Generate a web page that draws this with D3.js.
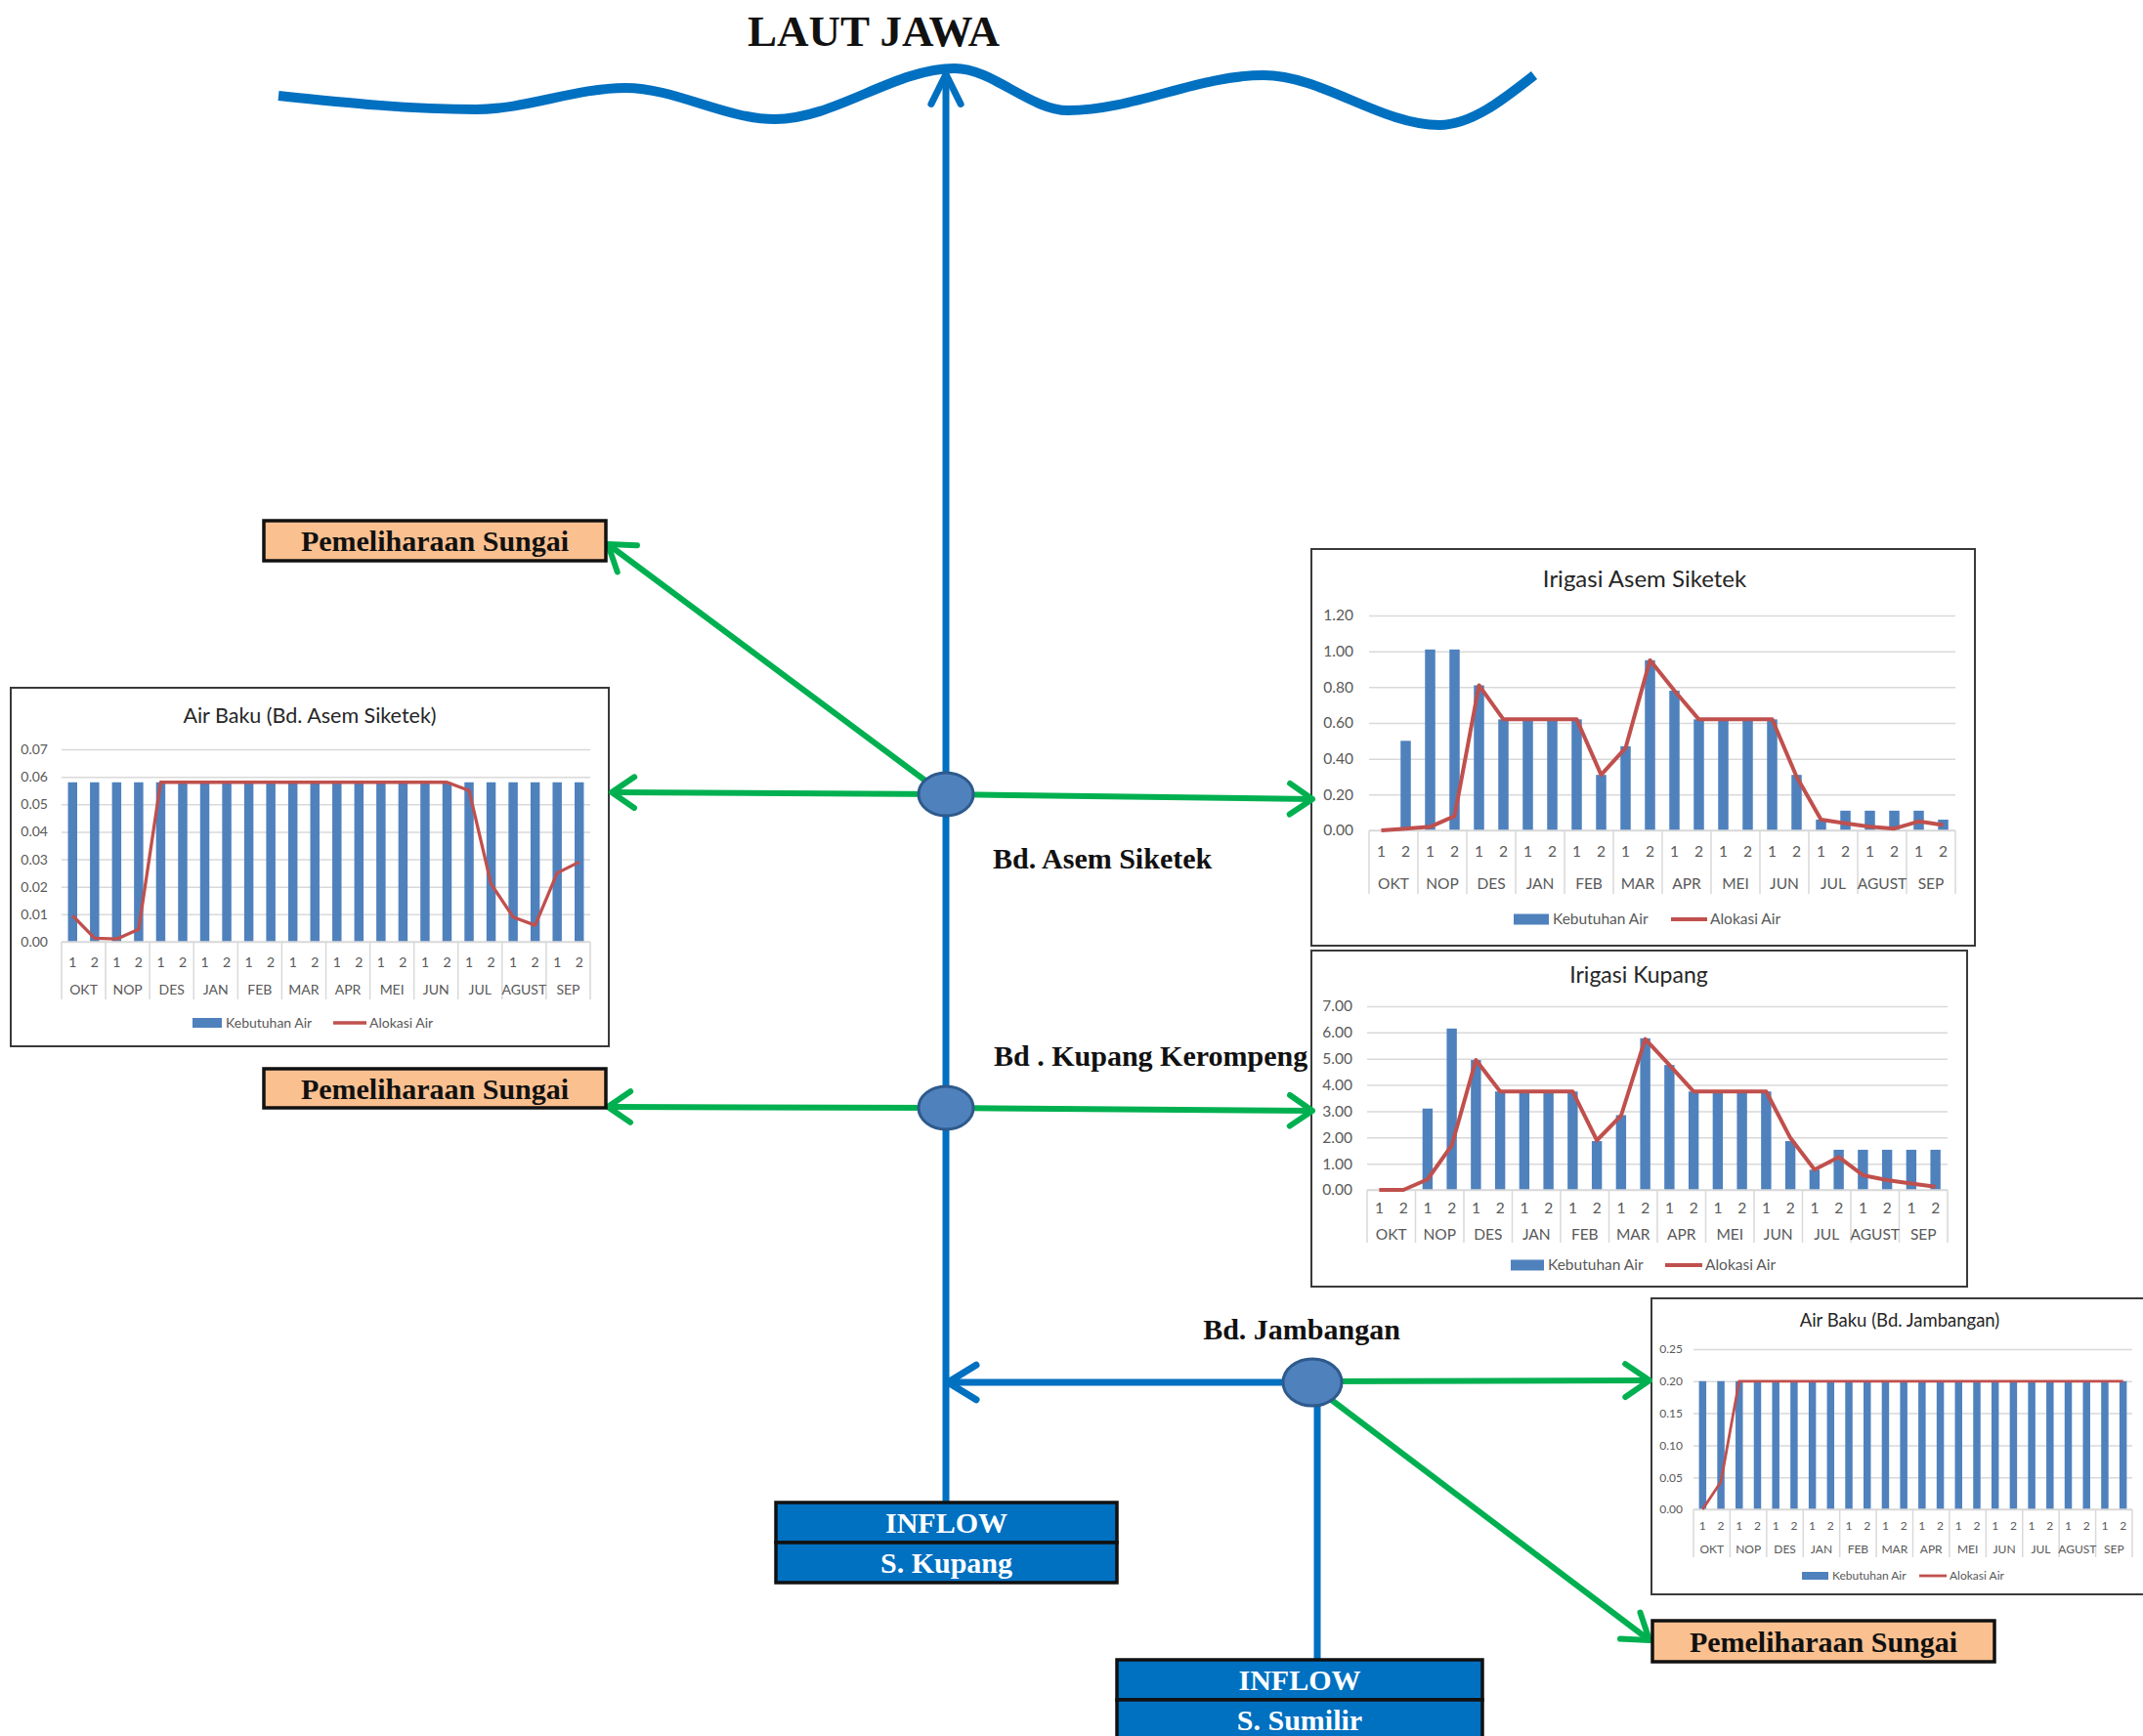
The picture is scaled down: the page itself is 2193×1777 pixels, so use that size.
<!DOCTYPE html>
<html>
<head>
<meta charset="utf-8">
<script src="https://cdn.jsdelivr.net/npm/d3@7"></script>
<style>
  html, body { margin: 0; padding: 0; background: #fff; }
  svg { display: block; }
</style>
</head>
<body>
<div id="diagram"></div>
<script>
// categories shared by the four charts
const months = ["OKT", "NOP", "DES", "JAN", "FEB", "MAR", "APR", "MEI", "JUN", "JUL", "AGUST", "SEP"]
const halves = ["1", "2"]
const seriesNames = ["Kebutuhan Air", "Alokasi Air"]

// Air Baku (Bd. Asem Siketek)
const abAsemTicks = [0, 0.01, 0.02, 0.03, 0.04, 0.05, 0.06, 0.07]
const abAsemKebutuhan = [0.058, 0.058, 0.058, 0.058, 0.058, 0.058, 0.058, 0.058, 0.058, 0.058, 0.058, 0.058,
                         0.058, 0.058, 0.058, 0.058, 0.058, 0.058, 0.058, 0.058, 0.058, 0.058, 0.058, 0.058]
const abAsemAlokasi = [0.0095, 0.0013, 0.0010, 0.0045, 0.058, 0.058, 0.058, 0.058, 0.058, 0.058, 0.058, 0.058,
                       0.058, 0.058, 0.058, 0.058, 0.058, 0.058, 0.055, 0.021, 0.009, 0.006, 0.025, 0.029]

// Irigasi Asem Siketek
const irAsemTicks = [0, 0.2, 0.4, 0.6, 0.8, 1.0, 1.2]
const irAsemKebutuhan = [0, 0.50, 1.01, 1.01, 0.81, 0.62, 0.62, 0.62, 0.62, 0.31, 0.47, 0.95,
                         0.78, 0.62, 0.62, 0.62, 0.62, 0.31, 0.06, 0.11, 0.11, 0.11, 0.11, 0.06]
const irAsemAlokasi = [0, 0.01, 0.02, 0.08, 0.81, 0.62, 0.62, 0.62, 0.62, 0.31, 0.46, 0.95,
                       0.78, 0.62, 0.62, 0.62, 0.62, 0.30, 0.06, 0.04, 0.02, 0.01, 0.05, 0.03]

// Irigasi Kupang
const irKupTicks = [0, 1, 2, 3, 4, 5, 6, 7]
const irKupKebutuhan = [0, 0, 3.10, 6.15, 4.95, 3.75, 3.75, 3.75, 3.75, 1.86, 2.85, 5.78,
                        4.76, 3.75, 3.75, 3.75, 3.75, 1.86, 0.77, 1.53, 1.53, 1.53, 1.53, 1.53]
const irKupAlokasi = [0, 0, 0.40, 1.70, 4.95, 3.75, 3.75, 3.75, 3.75, 1.89, 2.83, 5.75,
                      4.76, 3.75, 3.75, 3.75, 3.75, 1.98, 0.77, 1.25, 0.56, 0.37, 0.24, 0.12]

// Air Baku (Bd. Jambangan)
const abJambTicks = [0, 0.05, 0.10, 0.15, 0.20, 0.25]
const abJambKebutuhan = [0.20, 0.20, 0.20, 0.20, 0.20, 0.20, 0.20, 0.20, 0.20, 0.20, 0.20, 0.20,
                         0.20, 0.20, 0.20, 0.20, 0.20, 0.20, 0.20, 0.20, 0.20, 0.20, 0.20, 0.20]
const abJambAlokasi = [0, 0.043, 0.20, 0.20, 0.20, 0.20, 0.20, 0.20, 0.20, 0.20, 0.20, 0.20,
                       0.20, 0.20, 0.20, 0.20, 0.20, 0.20, 0.20, 0.20, 0.20, 0.20, 0.20, 0.20]

const chartFont = "Lato, 'Open Sans', sans-serif"
const serif = "'Liberation Serif', 'DejaVu Serif', serif"
const blue = "#0070c0", green = "#00b050", barBlue = "#4f81bd", lineRed = "#c0504d"

const width = 2193, height = 1777

var svg = d3.select("#diagram")
    .append("svg")
        .attr("width", width)
        .attr("height", height)

svg.append("rect").attr("width", width).attr("height", height).attr("fill", "#fff")

function drawChart(cfg)
{
    const g = svg.append("g")
    const b = cfg.box, p = cfg.plot

    g.append("rect")
        .attr("x", b.x).attr("y", b.y).attr("width", b.w).attr("height", b.h)
        .attr("fill", "#fff").attr("stroke", "#3a3a3a").attr("stroke-width", 2)

    g.append("text")
        .attr("x", cfg.titleX).attr("y", cfg.titleY).attr("dy", "0.35em")
        .attr("text-anchor", "middle")
        .style("font-family", chartFont).style("font-size", cfg.titleSize + "px")
        .attr("fill", "#262626")
        .text(cfg.title)

    const keys = months.flatMap(m => halves.map(h => m + " " + h))
    const x = d3.scaleBand().domain(keys).range([p.left, p.right]).paddingInner(cfg.gap).paddingOuter(cfg.gap / 2)
    const xm = d3.scaleBand().domain(months).range([p.left, p.right])
    const y = d3.scaleLinear().domain([0, d3.max(cfg.ticks)]).range([p.bottom, p.top])

    // value axis + gridlines
    const yAxis = g.append("g")
        .attr("transform", `translate(${p.left},0)`)
        .call(d3.axisLeft(y).tickValues(cfg.ticks).tickSize(-(p.right - p.left))
            .tickPadding(p.left - cfg.labelRight).tickFormat(d3.format(".2f")))
    yAxis.select(".domain").remove()
    yAxis.selectAll(".tick line").attr("stroke", "#d9d9d9").attr("stroke-width", 1.5)
    yAxis.selectAll(".tick text")
        .attr("fill", "#595959")
        .style("font-family", chartFont).style("font-size", cfg.font + "px")

    // bars
    g.append("g").selectAll("rect")
        .data(cfg.kebutuhan)
        .join("rect")
            .attr("x", (d, i) => x(keys[i]))
            .attr("y", d => y(d))
            .attr("width", x.bandwidth())
            .attr("height", d => y(0) - y(d))
            .attr("fill", barBlue)

    // category axis (two levels)
    const bounds = months.map(m => xm(m)).concat([p.right])
    g.append("g").selectAll("line")
        .data(bounds)
        .join("line")
            .attr("x1", d => d).attr("x2", d => d)
            .attr("y1", y(0)).attr("y2", cfg.catBottom)
            .attr("stroke", "#d9d9d9").attr("stroke-width", 1.5)
    g.append("line")
        .attr("x1", p.left).attr("x2", p.right).attr("y1", y(0)).attr("y2", y(0))
        .attr("stroke", "#d9d9d9").attr("stroke-width", 1.5)

    const halfAxis = g.append("g")
        .attr("transform", `translate(0,${cfg.halfY})`)
        .call(d3.axisBottom(x).tickSize(0).tickFormat(k => k.split(" ")[1]))
    const monthAxis = g.append("g")
        .attr("transform", `translate(0,${cfg.monthY})`)
        .call(d3.axisBottom(xm).tickSize(0))
    for (const ax of [halfAxis, monthAxis])
    {
        ax.select(".domain").remove()
        ax.selectAll("text")
            .attr("y", 0).attr("dy", "0.35em")
            .attr("fill", "#595959")
            .style("font-family", chartFont).style("font-size", cfg.font + "px")
    }

    // allocation line
    const line = d3.line().x((d, i) => x(keys[i]) + x.bandwidth() / 2).y(d => y(d))
    g.append("path")
        .datum(cfg.alokasi)
        .attr("fill", "none")
        .attr("stroke", lineRed)
        .attr("stroke-width", cfg.lineW)
        .attr("stroke-linejoin", "round")
        .attr("d", line)

    // legend
    const L = cfg.legend
    g.append("rect")
        .attr("x", L.barX).attr("y", L.y - L.sw / 2).attr("width", L.barW).attr("height", L.sw)
        .attr("fill", barBlue)
    g.append("line")
        .attr("x1", L.lineX).attr("x2", L.lineX + L.lineW).attr("y1", L.y).attr("y2", L.y)
        .attr("stroke", lineRed).attr("stroke-width", cfg.lineW)
    g.selectAll(".legend-text")
        .data(seriesNames)
        .join("text")
            .attr("class", "legend-text")
            .attr("x", (d, i) => i == 0 ? L.barX + L.barW + 4 : L.lineX + L.lineW + 3)
            .attr("y", L.y).attr("dy", "0.35em")
            .attr("fill", "#595959")
            .style("font-family", chartFont).style("font-size", cfg.font + "px")
            .text(d => d)
}

function arrow(g, p1, p2, color, w, len, ang)
{
    g.append("line")
        .attr("x1", p1[0]).attr("y1", p1[1]).attr("x2", p2[0]).attr("y2", p2[1])
        .attr("stroke", color).attr("stroke-width", w)
    const a = Math.atan2(p2[1] - p1[1], p2[0] - p1[0])
    const head = [
        [p2[0] - len * Math.cos(a - ang), p2[1] - len * Math.sin(a - ang)],
        p2,
        [p2[0] - len * Math.cos(a + ang), p2[1] - len * Math.sin(a + ang)]
    ]
    g.append("path")
        .attr("d", d3.line()(head))
        .attr("fill", "none").attr("stroke", color).attr("stroke-width", w)
        .attr("stroke-linecap", "round").attr("stroke-linejoin", "round")
}

function box(g, x, y, w, h, fill, rows, textColor)
{
    const rh = h / rows.length
    rows.forEach((t, i) => {
        g.append("rect")
            .attr("x", x).attr("y", y + i * rh).attr("width", w).attr("height", rh)
            .attr("fill", fill).attr("stroke", "#111").attr("stroke-width", 3.5)
        g.append("text")
            .attr("x", x + w / 2).attr("y", y + i * rh + rh / 2).attr("dy", "0.35em")
            .attr("text-anchor", "middle")
            .attr("fill", textColor)
            .style("font-family", serif).style("font-weight", "bold").style("font-size", "30px")
            .text(t)
    })
}

function label(g, x, y, anchor, t, size)
{
    g.append("text")
        .attr("x", x).attr("y", y).attr("dy", "0.35em")
        .attr("text-anchor", anchor)
        .attr("fill", "#111")
        .style("font-family", serif).style("font-weight", "bold").style("font-size", (size || 30) + "px")
        .text(t)
}

// ---------- charts ----------
drawChart({
    title: "Air Baku (Bd. Asem Siketek)", titleX: 317, titleY: 732, titleSize: 21.5,
    box: { x: 11, y: 704, w: 612, h: 367 },
    plot: { left: 63, right: 604, top: 767, bottom: 964 },
    labelRight: 49, halfY: 985, monthY: 1013, catBottom: 1023, font: 14, gap: 0.58, lineW: 3.3,
    ticks: abAsemTicks, kebutuhan: abAsemKebutuhan, alokasi: abAsemAlokasi,
    legend: { y: 1047, barX: 197, barW: 30, lineX: 341, lineW: 34, sw: 10 }
})

drawChart({
    title: "Irigasi Asem Siketek", titleX: 1683, titleY: 593, titleSize: 24,
    box: { x: 1342, y: 562, w: 679, h: 406 },
    plot: { left: 1401, right: 2001, top: 630, bottom: 850 },
    labelRight: 1385, halfY: 872, monthY: 905, catBottom: 915, font: 15.5, gap: 0.58, lineW: 4,
    ticks: irAsemTicks, kebutuhan: irAsemKebutuhan, alokasi: irAsemAlokasi,
    legend: { y: 941, barX: 1549, barW: 36, lineX: 1710, lineW: 37, sw: 11 }
})

drawChart({
    title: "Irigasi Kupang", titleX: 1677, titleY: 998, titleSize: 23,
    box: { x: 1342, y: 973, w: 671, h: 344 },
    plot: { left: 1399, right: 1993, top: 1030, bottom: 1218 },
    labelRight: 1384, halfY: 1237, monthY: 1264, catBottom: 1272, font: 15.5, gap: 0.58, lineW: 4,
    ticks: irKupTicks, kebutuhan: irKupKebutuhan, alokasi: irKupAlokasi,
    legend: { y: 1295, barX: 1546, barW: 34, lineX: 1704, lineW: 38, sw: 11 }
})

drawChart({
    title: "Air Baku (Bd. Jambangan)", titleX: 1944, titleY: 1352, titleSize: 18.5,
    box: { x: 1690, y: 1329, w: 520, h: 303 },
    plot: { left: 1733, right: 2182, top: 1381, bottom: 1545 },
    labelRight: 1722, halfY: 1562, monthY: 1586, catBottom: 1594, font: 12, gap: 0.6, lineW: 2.8,
    ticks: abJambTicks, kebutuhan: abJambKebutuhan, alokasi: abJambAlokasi,
    legend: { y: 1613, barX: 1844, barW: 27, lineX: 1964, lineW: 28, sw: 8 }
})

// ---------- river scheme ----------
const scheme = svg.append("g")

label(scheme, 894, 31, "middle", "LAUT JAWA", 45)

const wavePoints = [[285, 98], [487, 112], [640, 90], [793, 122], [977, 70], [1093, 113], [1293, 77], [1473, 128], [1570, 77]]
scheme.append("path")
    .datum(wavePoints)
    .attr("d", d3.line().curve(d3.curveMonotoneX))
    .attr("fill", "none").attr("stroke", blue).attr("stroke-width", 10)

// main river S. Kupang up to the sea
arrow(scheme, [968, 1540], [968, 76], blue, 7, 34, 0.46)

// Bd. Jambangan
arrow(scheme, [1343, 1415], [970, 1415], blue, 7, 34, 0.55)
scheme.append("line")
    .attr("x1", 1348).attr("x2", 1348).attr("y1", 1415).attr("y2", 1699)
    .attr("stroke", blue).attr("stroke-width", 7)
arrow(scheme, [1343, 1414], [1688, 1413], green, 6, 30, 0.6)
arrow(scheme, [1352, 1425], [1688, 1679], green, 6, 30, 0.6)

// Bd. Asem Siketek
arrow(scheme, [968, 813], [626, 811], green, 6, 28, 0.6)
arrow(scheme, [968, 813], [1343, 818], green, 6, 28, 0.6)
arrow(scheme, [955, 805], [622, 557], green, 6, 30, 0.6)

// Bd. Kupang Kerompeng
arrow(scheme, [968, 1134], [622, 1133], green, 6, 28, 0.6)
arrow(scheme, [968, 1134], [1343, 1137], green, 6, 28, 0.6)

// weirs
const weirs = [[968, 813, 28, 22], [968, 1134, 28, 22], [1343, 1415, 30, 24]]
scheme.selectAll(".weir")
    .data(weirs)
    .join("ellipse")
        .attr("class", "weir")
        .attr("cx", d => d[0]).attr("cy", d => d[1]).attr("rx", d => d[2]).attr("ry", d => d[3])
        .attr("fill", barBlue).attr("stroke", "#2e5a8c").attr("stroke-width", 3)

label(scheme, 1016, 878, "start", "Bd. Asem Siketek")
label(scheme, 1017, 1080, "start", "Bd . Kupang Kerompeng")
label(scheme, 1332, 1360, "middle", "Bd. Jambangan")

box(scheme, 270, 533, 350, 41, "#fac090", ["Pemeliharaan Sungai"], "#111")
box(scheme, 270, 1094, 350, 40, "#fac090", ["Pemeliharaan Sungai"], "#111")
box(scheme, 1691, 1659, 350, 42, "#fac090", ["Pemeliharaan Sungai"], "#111")

box(scheme, 794, 1538, 349, 82, blue, ["INFLOW", "S. Kupang"], "#fff")
box(scheme, 1143, 1699, 374, 82, blue, ["INFLOW", "S. Sumilir"], "#fff")
</script>
</body>
</html>
